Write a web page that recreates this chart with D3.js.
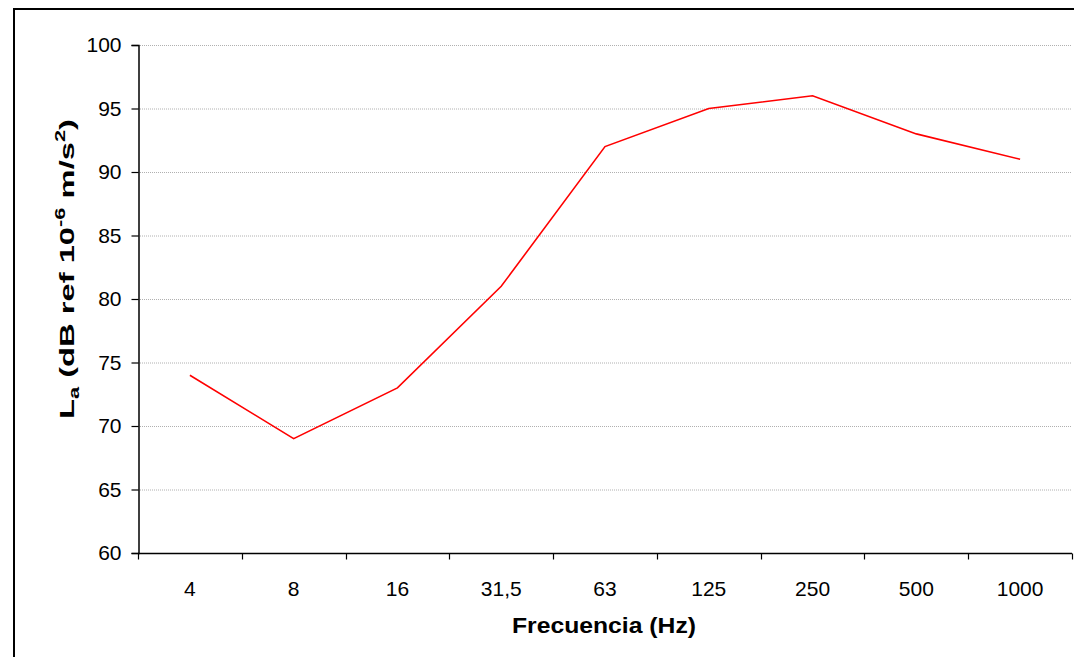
<!DOCTYPE html>
<html>
<head>
<meta charset="utf-8">
<script src="https://cdn.jsdelivr.net/npm/d3@7"></script>
<style>
  body { margin: 0; background: #fff; }
  svg text { font-family: "Liberation Sans", Arial, sans-serif; fill: #000; }
</style>
</head>
<body>
<svg id="chart" width="1074" height="657"></svg>
<script>
// data
var categories = ["4", "8", "16", "31,5", "63", "125", "250", "500", "1000"];
var levels = [74, 69, 73, 81, 92, 95, 96, 93, 91];
var yTicks = [60, 65, 70, 75, 80, 85, 90, 95, 100];

var svg = d3.select("#chart");

var margin = {left: 138, top: 45, right: 1072, bottom: 553};

// outer frame (runs off the right/bottom edge like the original)
svg.append("rect")
  .attr("x", 14).attr("y", 9)
  .attr("width", 1100).attr("height", 700)
  .attr("fill", "none")
  .attr("stroke", "#000")
  .attr("stroke-width", 2);

var x = d3.scaleBand().domain(categories).range([margin.left, margin.right]);
var y = d3.scaleLinear().domain([60, 100]).range([margin.bottom, margin.top]);

// gridlines
svg.append("g")
  .selectAll("line")
  .data(yTicks.filter(function(d) { return d > 60; }))
  .enter().append("line")
  .attr("x1", margin.left).attr("x2", margin.right)
  .attr("y1", function(d) { return y(d) + 0.5; })
  .attr("y2", function(d) { return y(d) + 0.5; })
  .attr("stroke", "#b0b0b0")
  .attr("stroke-width", 1)
  .attr("stroke-dasharray", "1,1");

// y axis
var yAxis = svg.append("g")
  .attr("transform", "translate(" + (margin.left + 0.5) + ",0)")
  .call(d3.axisLeft(y).tickValues(yTicks).tickSize(7).tickPadding(10));
yAxis.select(".domain").attr("stroke", "#000").attr("stroke-width", 1.5);
yAxis.selectAll(".tick line").attr("stroke", "#000").attr("stroke-width", 1.2);
yAxis.selectAll("text").style("font-size", "21px");

// x axis: ticks on band boundaries, labels at band centres
var xAxis = svg.append("g")
  .attr("transform", "translate(0," + (margin.bottom + 0.5) + ")");
xAxis.append("line")
  .attr("x1", margin.left).attr("x2", margin.right)
  .attr("stroke", "#000").attr("stroke-width", 1.5);
var bounds = categories.map(function(c) { return x(c); }).concat([margin.right]);
xAxis.selectAll(".xt")
  .data(bounds)
  .enter().append("line")
  .attr("class", "xt")
  .attr("x1", function(d) { return Math.round(d) + 0.5; })
  .attr("x2", function(d) { return Math.round(d) + 0.5; })
  .attr("y1", 0).attr("y2", 6)
  .attr("stroke", "#000").attr("stroke-width", 1.2);
xAxis.selectAll(".xl")
  .data(categories)
  .enter().append("text")
  .attr("class", "xl")
  .attr("x", function(d) { return x(d) + x.bandwidth() / 2; })
  .attr("y", 42)
  .attr("text-anchor", "middle")
  .style("font-size", "21px")
  .text(function(d) { return d; });

// the line
var line = d3.line()
  .x(function(d, i) { return x(categories[i]) + x.bandwidth() / 2; })
  .y(function(d) { return y(d); });

svg.append("path")
  .datum(levels)
  .attr("d", line)
  .attr("fill", "none")
  .attr("stroke", "#ff0000")
  .attr("stroke-width", 1.6);

// axis titles
svg.append("text")
  .attr("x", 512)
  .attr("y", 633)
  .attr("textLength", 184)
  .attr("lengthAdjust", "spacingAndGlyphs")
  .style("font-size", "22px")
  .style("font-weight", "bold")
  .text("Frecuencia (Hz)");

var yt = svg.append("text")
  .attr("transform", "translate(74,419) rotate(-90)")
  .attr("textLength", 300)
  .attr("lengthAdjust", "spacingAndGlyphs")
  .style("font-size", "21px")
  .style("font-weight", "bold");
yt.append("tspan").text("L");
yt.append("tspan").attr("dy", 5).style("font-size", "14px").text("a");
yt.append("tspan").attr("dy", -5).text(" (dB ref 10");
yt.append("tspan").attr("dy", -9).style("font-size", "14px").text("-6");
yt.append("tspan").attr("dy", 9).text(" m/s");
yt.append("tspan").attr("dy", -9).style("font-size", "14px").text("2");
yt.append("tspan").attr("dy", 9).text(")");
</script>
</body>
</html>
